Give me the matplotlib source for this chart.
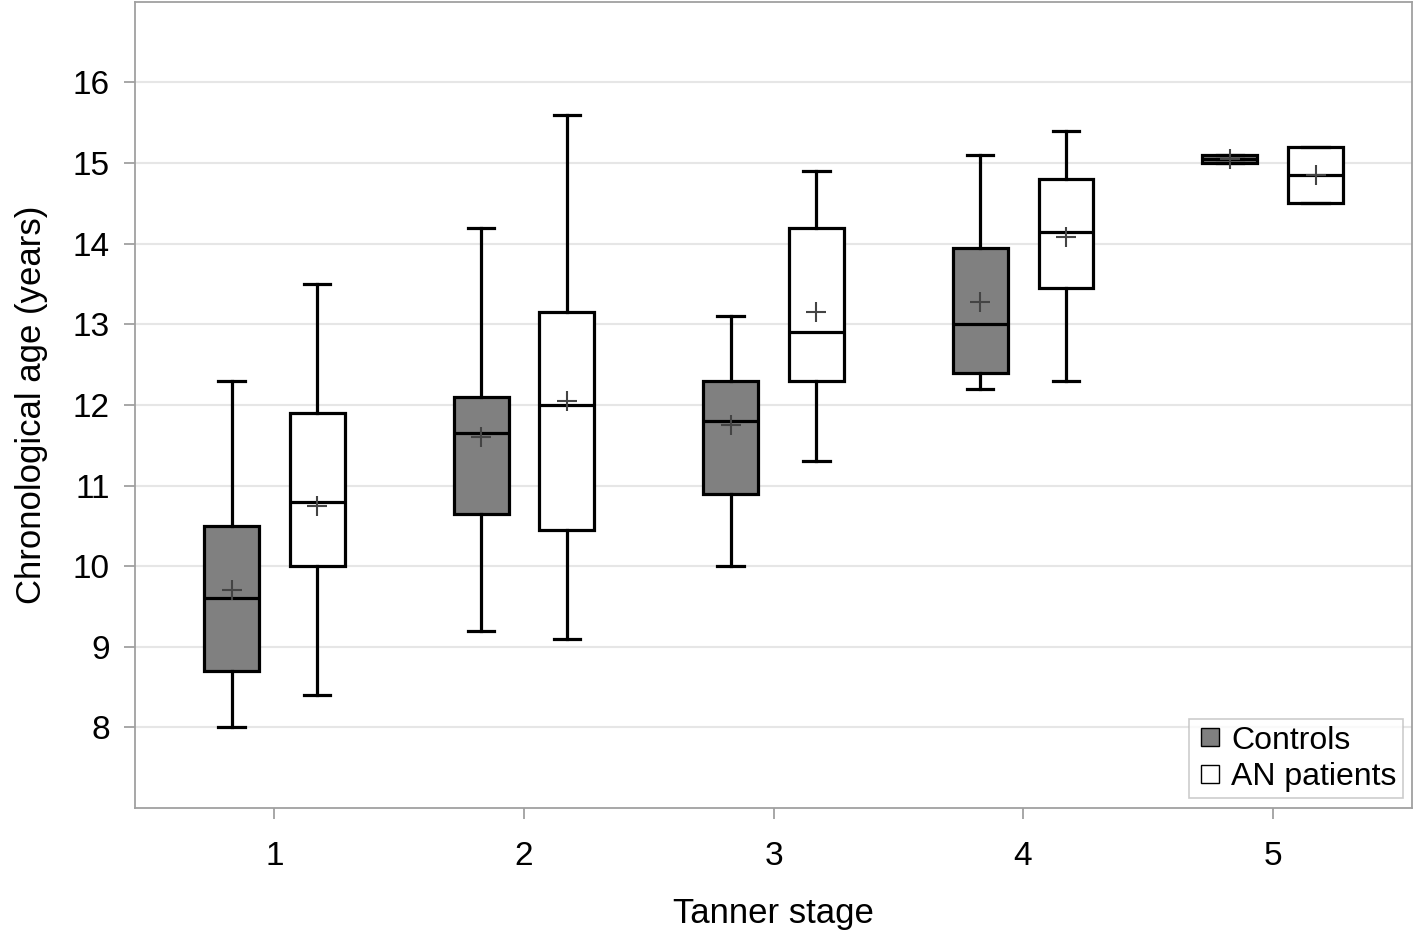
import matplotlib.pyplot as plt
import numpy as np
from matplotlib.lines import Line2D

plt.rcParams['font.family'] = ['Liberation Sans', 'DejaVu Sans']

stages = [1, 2, 3, 4, 5]

# Controls: whisker low, Q1, median, Q3, whisker high, mean
ctrl_lo = [8.0, 9.2, 10.0, 12.2, 15.0]
ctrl_q1 = [8.7, 10.65, 10.9, 12.4, 15.0]
ctrl_med = [9.6, 11.65, 11.8, 13.0, 15.05]
ctrl_q3 = [10.5, 12.1, 12.3, 13.95, 15.1]
ctrl_hi = [12.3, 14.2, 13.1, 15.1, 15.1]
ctrl_mean = [9.7, 11.6, 11.75, 13.28, 15.05]

# AN patients
an_lo = [8.4, 9.1, 11.3, 12.3, 14.5]
an_q1 = [10.0, 10.45, 12.3, 13.45, 14.5]
an_med = [10.8, 12.0, 12.9, 14.15, 14.85]
an_q3 = [11.9, 13.15, 14.2, 14.8, 15.2]
an_hi = [13.5, 15.6, 14.9, 15.4, 15.2]
an_mean = [10.75, 12.05, 13.15, 14.08, 14.85]


def make_stats(lo, q1, med, q3, hi, mean):
    return [dict(whislo=a, q1=b, med=c, q3=d, whishi=e, mean=f, fliers=[])
            for a, b, c, d, e, f in zip(lo, q1, med, q3, hi, mean)]


fig, ax = plt.subplots(figsize=(14.18, 9.33), dpi=100)
fig.subplots_adjust(left=0.095, right=0.996, top=0.998, bottom=0.134)

offset = 0.172
width = 0.22
common = dict(
    widths=width,
    capwidths=0.105,
    showmeans=True,
    patch_artist=True,
    boxprops=dict(edgecolor='black', linewidth=2.3),
    medianprops=dict(color='black', linewidth=2.3),
    whiskerprops=dict(color='black', linewidth=2.3),
    capprops=dict(color='black', linewidth=2.3),
    meanprops=dict(marker='+', markeredgecolor='#444444', markersize=15,
                   markeredgewidth=1.5),
)

pos = np.array(stages, dtype=float)
b1 = ax.bxp(make_stats(ctrl_lo, ctrl_q1, ctrl_med, ctrl_q3, ctrl_hi, ctrl_mean),
            positions=pos - offset, **common)
b2 = ax.bxp(make_stats(an_lo, an_q1, an_med, an_q3, an_hi, an_mean),
            positions=pos + offset, **common)
for p in b1['boxes']:
    p.set_facecolor('#808080')
for p in b2['boxes']:
    p.set_facecolor('white')

ax.set_xlim(0.44, 5.56)
ax.set_ylim(7, 17)
ax.set_xticks(stages)
ax.set_xticklabels([str(s) for s in stages])
ax.set_yticks(range(8, 17))
ax.yaxis.grid(True, color='#e6e6e6', linewidth=1.5)
ax.set_axisbelow(True)

for s in ax.spines.values():
    s.set_color('#a0a0a0')
    s.set_linewidth(1.3)
ax.tick_params(axis='both', colors='#a0a0a0', length=8, width=1.3,
               labelsize=24, labelcolor='black')
ax.tick_params(axis='x', pad=16)
ax.tick_params(axis='y', pad=10)

ax.set_xlabel('Tanner stage', fontsize=25, labelpad=18)
ax.set_ylabel('Chronological age (years)', fontsize=25, labelpad=18)

handles = [
    Line2D([], [], marker='s', linestyle='none', markerfacecolor='#808080',
           markeredgecolor='black', markersize=13),
    Line2D([], [], marker='s', linestyle='none', markerfacecolor='white',
           markeredgecolor='black', markersize=13),
]
leg = ax.legend(handles, ['Controls', 'AN patients'], loc='lower right',
                fontsize=23, frameon=True, fancybox=False, borderpad=0.2,
                handletextpad=0.2, handlelength=0.9, labelspacing=0.2,
                borderaxespad=0.3)
leg.get_frame().set_edgecolor('#c0c0c0')
leg.get_frame().set_linewidth(1.2)

fig.savefig('out.png', dpi=100)
